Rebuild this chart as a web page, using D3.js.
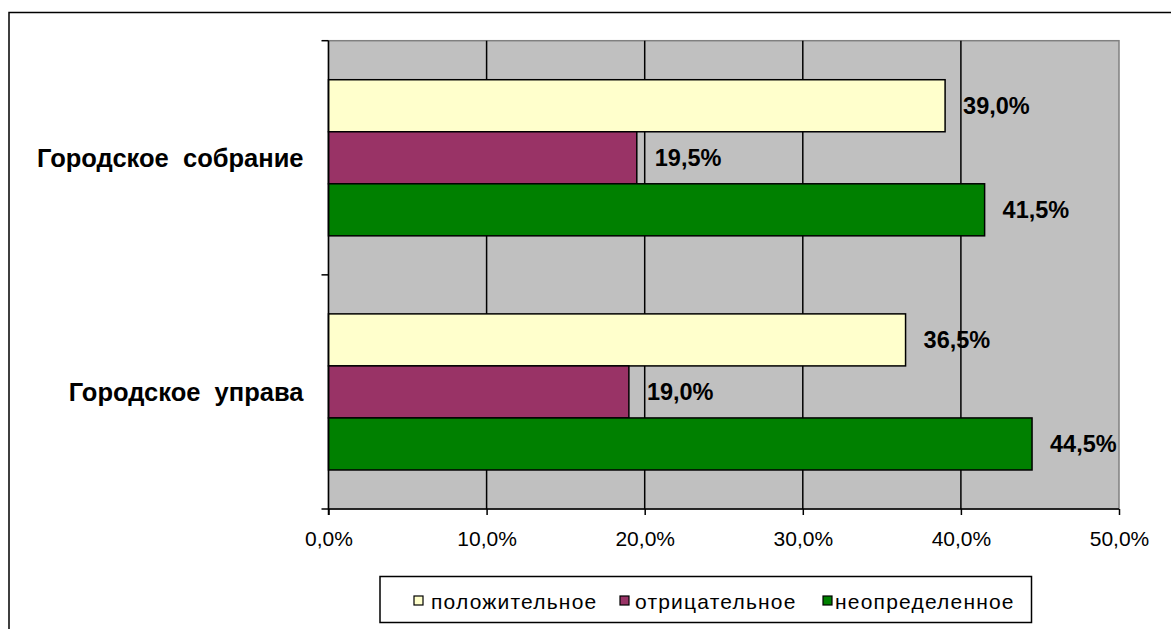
<!DOCTYPE html>
<html>
<head>
<meta charset="utf-8">
<script src="https://cdn.jsdelivr.net/npm/d3@7"></script>
<style>
  html, body { margin: 0; padding: 0; background: #fff; }
  svg { display: block; }
  text { font-family: "Liberation Sans", Arial, sans-serif; }
</style>
</head>
<body>
<svg id="chart" width="1171" height="629"></svg>
<script>
const categories = ["Городское  собрание", "Городское  управа"];
const seriesNames = ["положительное", "отрицательное", "неопределенное"];
const seriesColors = ["#FFFFCC", "#993366", "#008000"];
const positiveValues = [39.0, 36.5];
const negativeValues = [19.5, 19.0];
const undefinedValues = [41.5, 44.5];
const xTicks = [0, 10, 20, 30, 40, 50];

const seriesValues = [positiveValues, negativeValues, undefinedValues];
const fmt = v => v.toFixed(1).replace(".", ",") + "%";

const svg = d3.select("#chart");
const m = { left: 328.5, right: 1119, top: 40.7, bottom: 509 };

// outer chart frame
svg.append("rect").attr("x", 9).attr("y", 12.5).attr("width", 1200).attr("height", 700)
  .attr("fill", "#fff").attr("stroke", "#000").attr("stroke-width", 1.5);

const x = d3.scaleLinear().domain([0, 50]).range([m.left, m.right]);
const y0 = d3.scaleBand().domain(categories).range([m.top, m.bottom]).padding(0);
const y1 = d3.scaleBand().domain(seriesNames).range([0, y0.bandwidth()]).paddingInner(0).paddingOuter(0.75);

// plot background
svg.append("rect").attr("x", m.left).attr("y", m.top)
  .attr("width", m.right - m.left).attr("height", m.bottom - m.top)
  .attr("fill", "#C0C0C0").attr("stroke", "#808080").attr("stroke-width", 1.5);

// gridlines
svg.append("g").selectAll("line").data(xTicks.slice(1, -1)).join("line")
  .attr("x1", d => x(d)).attr("x2", d => x(d))
  .attr("y1", m.top).attr("y2", m.bottom)
  .attr("stroke", "#000").attr("stroke-width", 1.5);

// bars
const groups = svg.append("g").selectAll("g").data(categories).join("g")
  .attr("transform", d => `translate(0,${y0(d)})`);

groups.each(function(cat, ci) {
  const g = d3.select(this);
  seriesNames.forEach((s, si) => {
    const v = seriesValues[si][ci];
    g.append("rect")
      .attr("x", x(0)).attr("y", y1(s))
      .attr("width", x(v) - x(0)).attr("height", y1.bandwidth())
      .attr("fill", seriesColors[si]).attr("stroke", "#000").attr("stroke-width", 1.5);
    g.append("text")
      .attr("x", x(v) + 18).attr("y", y1(s) + y1.bandwidth() / 2)
      .attr("dy", "0.36em")
      .attr("font-size", 23.5).attr("font-weight", "bold").attr("fill", "#000")
      .text(fmt(v));
  });
});

// x axis
const xAxis = d3.axisBottom(x).tickValues(xTicks).tickSize(6).tickPadding(16)
  .tickFormat(fmt);
const gx = svg.append("g").attr("transform", `translate(0,${m.bottom})`).call(xAxis);
gx.select(".domain").attr("stroke", "#000").attr("stroke-width", 1.5).attr("d", `M${m.left},0H${m.right}`);
gx.selectAll(".tick line").attr("stroke", "#000").attr("stroke-width", 1.5);
gx.selectAll(".tick text").attr("font-size", 21).attr("fill", "#000")
  .attr("font-family", "'Liberation Sans', Arial, sans-serif");

// y axis
const gy = svg.append("g").attr("transform", `translate(${m.left},0)`);
gy.append("line").attr("x1", 0).attr("x2", 0).attr("y1", m.top).attr("y2", m.bottom + 6)
  .attr("stroke", "#000").attr("stroke-width", 1.5);
const yTickPos = [m.top].concat(categories.map(c => y0(c) + y0.bandwidth()));
gy.selectAll("line.t").data(yTickPos).join("line").attr("class", "t")
  .attr("x1", -7).attr("x2", 0).attr("y1", d => d).attr("y2", d => d)
  .attr("stroke", "#000").attr("stroke-width", 1.5);
gy.selectAll("text").data(categories).join("text")
  .attr("x", -25).attr("y", d => y0(d) + y0.bandwidth() / 2)
  .attr("dy", "0.36em").attr("text-anchor", "end")
  .attr("font-size", 25.5).attr("font-weight", "bold").attr("fill", "#000")
  .style("white-space", "pre")
  .text(d => d);

// legend
const lg = svg.append("g");
lg.append("rect").attr("x", 380).attr("y", 576.5).attr("width", 651.5).attr("height", 46)
  .attr("fill", "#fff").attr("stroke", "#000").attr("stroke-width", 1.5);
const legendX = [414, 620, 823];
const legendTextX = [431, 635, 835];
seriesNames.forEach((s, i) => {
  lg.append("rect").attr("x", legendX[i]).attr("y", 596).attr("width", 9).attr("height", 9)
    .attr("fill", seriesColors[i]).attr("stroke", "#000").attr("stroke-width", 1.2);
  lg.append("text").attr("x", legendTextX[i]).attr("y", 601).attr("dy", "0.36em")
    .attr("font-size", 21).attr("letter-spacing", 1.2).attr("fill", "#000").text(s);
});
</script>
</body>
</html>
